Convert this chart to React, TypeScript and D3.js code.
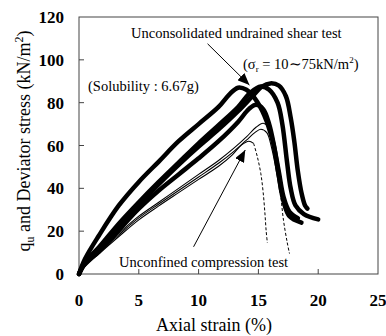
import React from 'react'
import * as d3 from 'd3'

// axis ticks
const xTicks = [0, 5, 10, 15, 20, 25]
const yTicks = [0, 20, 40, 60, 80, 100, 120]

// Unconsolidated undrained shear tests (thick lines), [strain %, stress kN/m2]
const uuA = [[0, 0], [0.5, 7], [1.67, 18], [3.33, 32], [5, 43], [6.67, 52.5], [8.33, 62], [10, 70], [11.67, 78], [12.6, 84], [13.3, 87], [14, 86], [14.7, 82], [15.5, 74], [16.2, 62], [16.7, 48], [17.1, 36], [17.6, 29], [18.3, 26]]
const uuB = [[0, 0], [0.5, 5], [1.67, 11.5], [3.33, 22.5], [5, 32.5], [6.67, 42], [8.33, 51], [10, 59.5], [11.67, 67.5], [13.3, 76], [14.5, 83], [15.3, 87.5], [16, 89], [16.7, 88], [17.3, 83], [17.7, 73], [18, 62], [18.3, 48], [18.6, 38], [18.9, 32], [19.1, 30.5]]
const uuC = [[0, 0], [0.5, 5.5], [1.67, 12.5], [3.33, 23.5], [5, 33.5], [6.67, 43], [8.33, 52], [10, 61], [11.67, 69.5], [13.3, 78], [14.3, 84.5], [15.2, 87.5], [15.9, 86], [16.6, 80], [17, 70], [17.4, 52], [17.7, 40], [18.1, 32], [18.8, 28], [20, 25.5]]
const uuD = [[0, 0], [0.5, 5], [1.67, 10.5], [3.33, 20.5], [5, 30.5], [6.67, 39], [8.33, 46.5], [10, 54], [11.67, 62], [13.3, 71], [14.2, 77], [14.8, 79], [15.4, 77], [15.9, 70], [16.3, 60], [16.7, 46], [17.1, 34], [17.6, 27], [18.6, 24]]

// Unconfined compression tests (thin lines, dashed after failure)
const ucA = [[0, 0], [0.5, 4], [1.67, 10.5], [3.33, 19], [5, 27], [6.67, 33.5], [8.33, 40], [10, 46.5], [11.67, 53], [13, 59], [14, 64], [14.8, 68.5], [15.4, 70.4], [15.9, 68], [16.3, 60], [16.5, 54]]
const ucADash = [[16.5, 54], [16.7, 45], [16.9, 35], [17.1, 25], [17.4, 15], [17.6, 9.5]]
const ucB = [[0, 0], [0.5, 3.7], [1.67, 10], [3.33, 18.3], [5, 26.2], [6.67, 32.7], [8.33, 39], [10, 45.3], [11.67, 51.7], [13, 57.5], [14, 62.5], [14.7, 66], [15.2, 67.6], [15.7, 66], [16.1, 59], [16.5, 48], [16.8, 38]]
const ucC = [[0, 0], [0.5, 3.4], [1.67, 9.4], [3.33, 17.5], [5, 25.3], [6.67, 31.8], [8.33, 38], [10, 44.2], [11.67, 50.3], [12.8, 55.5], [13.6, 60.3], [14.2, 62], [14.6, 61]]
const ucCDash = [[14.6, 61], [14.9, 55], [15.2, 47], [15.4, 38], [15.55, 28], [15.65, 20], [15.75, 14.5]]

const thickLines = [uuA, uuB, uuC, uuD]
const thinLines = [ucA, ucB, ucC]
const dashLines = [ucADash, ucCDash]

// annotation arrows [from, to] in data units
const arrowUU = [[10.75, 107.5], [14.25, 88.2]]
const arrowUC = [[9.58, 12.7], [13.9, 57.9]]

const W = 386
const H = 336
const font = '"Liberation Serif", "Times New Roman", serif'

export default function App() {
  const x = d3.scaleLinear().domain([0, 25]).range([79, 378])
  const y = d3.scaleLinear().domain([0, 120]).range([274, 17])

  const line = d3.line<number[]>()
    .x(d => x(d[0]))
    .y(d => y(d[1]))
    .curve(d3.curveCatmullRom.alpha(0.5))

  const straight = d3.line<number[]>().x(d => x(d[0])).y(d => y(d[1]))

  return (
    <div style={{ position: 'fixed', left: 0, top: 0, background: '#fff' }}>
      <svg width={W} height={H} style={{ display: 'block', fontFamily: font }}>
        <defs>
          <marker id="head" markerUnits="userSpaceOnUse" viewBox="0 0 12 10" refX="12" refY="5"
            markerWidth="12" markerHeight="10" orient="auto">
            <path d="M0,0 L12,5 L0,10 Z" fill="#000" />
          </marker>
        </defs>

        {/* frame */}
        <rect x={x(0)} y={y(120)} width={x(25) - x(0)} height={y(0) - y(120)}
          fill="none" stroke="#444" strokeWidth={1} />

        {/* inward ticks */}
        {xTicks.slice(1, -1).map(t => (
          <line key={'xt' + t} x1={x(t)} x2={x(t)} y1={y(0)} y2={y(0) - 5} stroke="#444" />
        ))}
        {yTicks.slice(1, -1).map(t => (
          <line key={'yt' + t} x1={x(0)} x2={x(0) + 5} y1={y(t)} y2={y(t)} stroke="#444" />
        ))}

        {/* tick labels */}
        {xTicks.map(t => (
          <text key={'xl' + t} x={x(t)} y={306} textAnchor="middle" fontSize={17} fontWeight="bold">{t}</text>
        ))}
        {yTicks.map(t => (
          <text key={'yl' + t} x={64} y={y(t) + 6} textAnchor="end" fontSize={17} fontWeight="bold">{t}</text>
        ))}

        {/* axis titles */}
        <text x={214} y={331} textAnchor="middle" fontSize={18}>Axial strain (%)</text>
        <text transform="translate(30,141) rotate(-90)" textAnchor="middle" fontSize={18}>
          q<tspan fontSize={12} dy={4}>u</tspan><tspan dy={-4}> and Deviator stress (kN/m</tspan>
          <tspan fontSize={12} dy={-7}>2</tspan><tspan dy={7}>)</tspan>
        </text>

        {/* curves */}
        {thinLines.map((d, i) => (
          <path key={'th' + i} d={line(d) || ''} fill="none" stroke="#000" strokeWidth={1.1} />
        ))}
        {dashLines.map((d, i) => (
          <path key={'da' + i} d={line(d) || ''} fill="none" stroke="#000" strokeWidth={1} strokeDasharray="3,2" />
        ))}
        {thickLines.map((d, i) => (
          <path key={'tk' + i} d={line(d) || ''} fill="none" stroke="#000" strokeWidth={4.5}
            strokeLinecap="round" strokeLinejoin="round" />
        ))}

        {/* annotations */}
        <path d={straight(arrowUU) || ''} stroke="#000" strokeWidth={1} markerEnd="url(#head)" />
        <path d={straight(arrowUC) || ''} stroke="#000" strokeWidth={1} markerEnd="url(#head)" />

        <text x={131} y={38} fontSize={14.5}>Unconsolidated undrained shear test</text>
        <text x={243} y={69} fontSize={14.5}>
          (σ<tspan fontSize={9} dy={3}>r</tspan><tspan dy={-3}> = 10∼75kN/m</tspan>
          <tspan fontSize={9} dy={-6}>2</tspan><tspan dy={6}>)</tspan>
        </text>
        <text x={88} y={91} fontSize={14.5}>(Solubility : 6.67g)</text>
        <text x={119} y={267} fontSize={14.5}>Unconfined compression test</text>
      </svg>
    </div>
  )
}
